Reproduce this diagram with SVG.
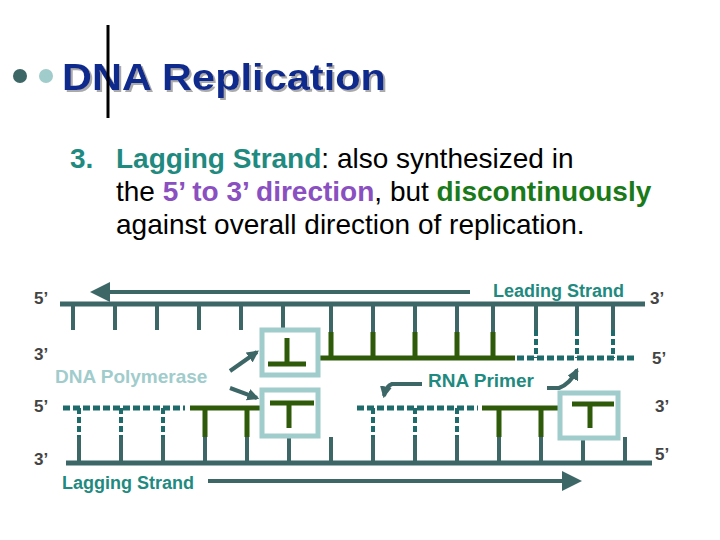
<svg xmlns="http://www.w3.org/2000/svg" width="720" height="540" viewBox="0 0 720 540">
<style>
.s{stroke:#3d6666;stroke-width:5;fill:none}
.t{stroke:#3d6666;stroke-width:4;fill:none}
.g{stroke:#2f5a0a;stroke-width:5;fill:none}
.d{stroke:#1f6a6a;stroke-width:5;fill:none;stroke-dasharray:7 3}
.dv{stroke:#1f6a6a;stroke-width:4;fill:none;stroke-dasharray:6 3}
.box{fill:#fff;stroke:#a0cccc;stroke-width:5}
.lb{font-family:"Liberation Sans",Arial,sans-serif;font-weight:bold;font-size:17px;fill:#444}
.tl{font-family:"Liberation Sans",Arial,sans-serif;font-weight:bold;font-size:18px;fill:#1f8a80}
.bd{font-family:"Liberation Sans",Arial,sans-serif;font-size:28px;fill:#000}
</style>
<defs>
<marker id="ah" viewBox="0 0 10 10" refX="8" refY="5" markerWidth="3" markerHeight="3" orient="auto"><path d="M0,0L10,5L0,10z" fill="#3d6666"/></marker>
<marker id="as" viewBox="0 0 10 10" refX="8" refY="5" markerWidth="5" markerHeight="5" orient="auto"><path d="M0,0L10,5L0,10z" fill="#3d6666"/></marker>
<filter id="sh" x="-5%" y="-20%" width="110%" height="140%"><feDropShadow dx="2" dy="2" stdDeviation="0" flood-color="#aaa"/></filter>
</defs>
<rect width="720" height="540" fill="#fff"/>
<g id="title">
<circle cx="20" cy="76" r="7" fill="#3d6666"/>
<circle cx="46" cy="76" r="7" fill="#a0cccc"/>
<text x="62" y="90" filter="url(#sh)" font-family="Liberation Sans,Arial,sans-serif" font-weight="bold" font-size="36" fill="#0e2a8c" textLength="324" lengthAdjust="spacingAndGlyphs">DNA Replication</text>
<line x1="108" y1="25" x2="108" y2="118" stroke="#000" stroke-width="3"/>
</g>
<g id="body">
<text x="70" y="168" class="bd"><tspan font-weight="bold" fill="#1f8a80">3.</tspan><tspan x="116" font-weight="bold" fill="#1f8a80">Lagging Strand</tspan>:  also synthesized in</text>
<text x="116" y="201" class="bd">the <tspan font-weight="bold" fill="#8a4fc0">5’ to 3’ direction</tspan>, but <tspan font-weight="bold" fill="#1a7a1a">discontinuously</tspan></text>
<text x="116" y="234" class="bd">against overall direction of replication.</text>
</g>
<g id="labels">
<text x="34" y="304" class="lb">5’</text><text x="34" y="360" class="lb">3’</text>
<text x="34" y="412" class="lb">5’</text><text x="34" y="465" class="lb">3’</text>
<text x="650" y="304" class="lb">3’</text><text x="652" y="364" class="lb">5’</text>
<text x="655" y="412" class="lb">3’</text><text x="655" y="460" class="lb">5’</text>
<text x="493" y="297" class="tl">Leading Strand</text>
<text x="62" y="489" class="tl">Lagging Strand</text>
<text x="55" y="383" class="tl" style="fill:#a0cccc;font-size:19px">DNA Polymerase</text>
<text x="428" y="387" class="tl" style="font-size:19px">RNA Primer</text>
</g>
<g id="connectors">
<path class="s" d="M60 304H645"/>
<path class="t" d="M470 292H94" marker-end="url(#as)"/>
<path class="t" d="M208 481H578" marker-end="url(#as)"/>
<path class="s" d="M66 463H652"/>
<path class="t" d="M73 304V330M115 304V330M157 304V330M199 304V330M241 304V330M283 304V330M331 304V332M373 304V332M415 304V332M457 304V332M493 304V332M536 304V330M577 304V330M613 304V330"/>
<path class="g" d="M331 332V358M373 332V358M415 332V358M457 332V358M493 332V358M320 358H515"/>
<path class="d" d="M517 358H636"/>
<path class="dv" d="M536 330V358M577 330V358M613 330V358"/>
<path class="t" d="M79 463V437M121 463V437M163 463V437M205 463V437M247 463V437M289 463V437M331 463V437M373 463V437M415 463V437M457 463V437M499 463V437M541 463V437M583 463V437M625 463V437"/>
<path class="d" d="M63 408H185M357 408H478"/>
<path class="dv" d="M79 408V437M121 408V437M163 408V437M373 408V437M415 408V437M457 408V437"/>
<path class="g" d="M190 408H262M205 408V437M247 408V437M482 408H562M499 408V437M541 408V437"/>
<path class="t" d="M230 371L257 352" marker-end="url(#ah)"/>
<path class="t" d="M230 388L257 398" marker-end="url(#ah)"/>
<path class="t" d="M422 384H392Q386 386 384 396" marker-end="url(#ah)"/>
<path class="t" d="M547 388H559Q570 384 577 370" marker-end="url(#ah)"/>
</g>
<g id="pol1"><rect class="box" x="262" y="330" width="56" height="45"/><path class="g" d="M287 338V364M268 364H306"/></g>
<g id="pol2"><rect class="box" x="262" y="390" width="56" height="46"/><path class="g" d="M270 403H314M289 403V428"/></g>
<g id="pol3"><rect class="box" x="560" y="393" width="58" height="45"/><path class="g" d="M572 404H614M590 404V428"/></g>
</svg>
